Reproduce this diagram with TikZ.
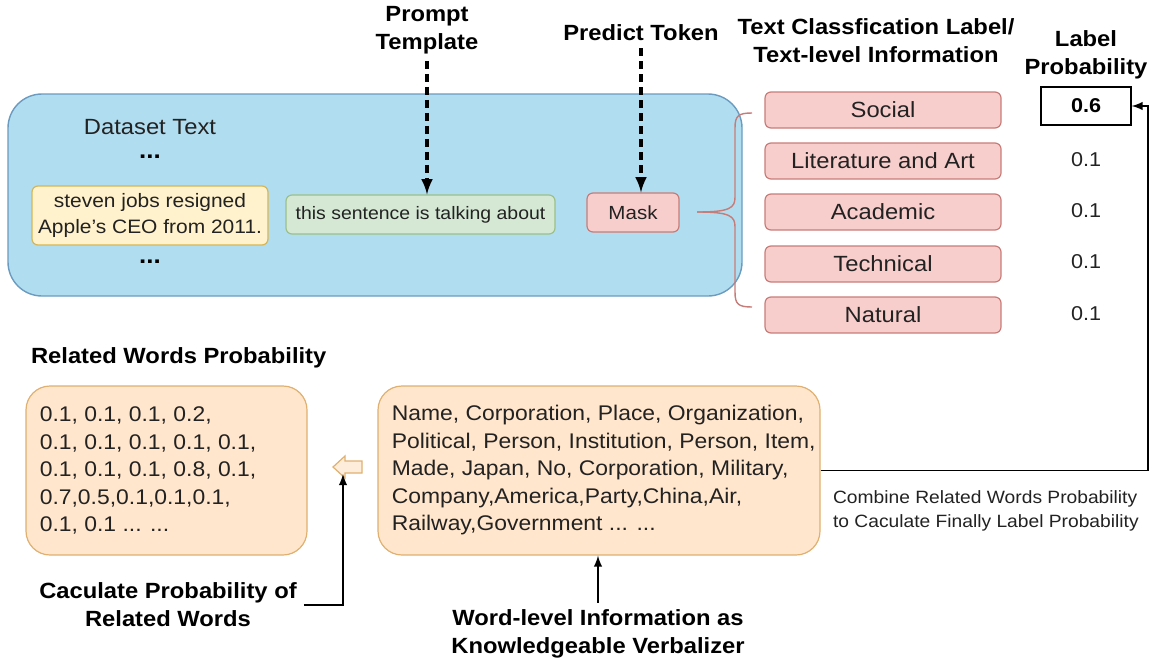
\documentclass[tikz,border=0pt]{standalone}
\usepackage{fontspec}
\setmainfont{Liberation Sans}[FakeStretch=1.08]
\usetikzlibrary{positioning}
\usetikzlibrary{arrows}
\usetikzlibrary{calc}

\definecolor{blueFill}{HTML}{B1DDF0}
\definecolor{blueLine}{HTML}{6B9BBF}
\definecolor{yellowFill}{HTML}{FFF2CC}
\definecolor{yellowLine}{HTML}{D6B656}
\definecolor{greenFill}{HTML}{D5E8D4}
\definecolor{greenLine}{HTML}{9CC08A}
\definecolor{redFill}{HTML}{F8CECC}
\definecolor{redLine}{HTML}{C77C78}
\definecolor{orangeFill}{HTML}{FFE6CC}
\definecolor{orangeLine}{HTML}{E0B070}
\definecolor{txt}{HTML}{222222}

\tikzset{
    smallbox/.style={draw, rounded corners=3pt, line width=0.6pt, text=txt,
        font=\fontsize{9}{12}\selectfont, align=center, inner sep=1pt},
    labelbox/.style={draw=redLine, fill=redFill, rounded corners=3pt, line width=0.6pt,
        minimum width=118pt, minimum height=18pt, text=txt, font=\fontsize{11}{13}\selectfont},
    prob/.style={text=txt, font=\fontsize{10}{12}\selectfont},
    head/.style={font=\bfseries\fontsize{11}{14}\selectfont, align=center},
    wordbox/.style={draw=orangeLine, fill=orangeFill, rounded corners=12pt, line width=0.6pt,
        minimum height=84.5pt},
    wordtext/.style={align=left, inner sep=0pt, text=txt, font=\fontsize{10.6}{13.75}\selectfont},
    dasharrow/.style={-latex, line width=1.6pt, dash pattern=on 4pt off 2.5pt},
    solidarrow/.style={-latex, line width=0.9pt}
}

\begin{document}
\begin{tikzpicture}[x=0.5pt, y=-0.5pt]
    \useasboundingbox (0,0) rectangle (1155,669);

    % Dataset text
    \node[draw=blueLine, fill=blueFill, rounded corners=17pt, line width=0.7pt,
        minimum width=367pt, minimum height=101pt] (dataset) at (375,195) {};
    \node[text=txt, font=\fontsize{11}{13}\selectfont] (dstitle) at (150,127) {Dataset Text};
    \node[font=\bfseries\large] (dots1) at (150,157) {...};
    \node[font=\bfseries\large] (dots2) at (150,262) {...};
    \node[smallbox, draw=yellowLine, fill=yellowFill, minimum width=118pt, minimum height=29.5pt,
        font=\fontsize{9.7}{13}\selectfont] (sent) at (150,215.5) {steven jobs resigned\\Apple's CEO from 2011.};
    \node[smallbox, draw=greenLine, fill=greenFill, minimum width=134.5pt, minimum height=19.5pt]
        (prompt) at (420.5,214.5) {this sentence is talking about};
    \node[smallbox, draw=redLine, fill=redFill, minimum width=46pt, minimum height=19.5pt,
        font=\fontsize{9.5}{12}\selectfont] (mask) at (633,212.5) {Mask};

    % Headers
    \node[head] (prompthead) at (427,30) {Prompt\\Template};
    \node[head] (predhead) at (641,33) {Predict Token};
    \node[head] (labelhead) at (876,41) {Text Classfication Label/\\Text-level Information};
    \node[head] (probhead) at (1086,55) {Label\\Probability};

    % Label boxes
    \node[labelbox] (social) at (883,110) {Social};
    \node[labelbox] (lit)    at (883,161) {Literature and Art};
    \node[labelbox] (acad)   at (883,212) {Academic};
    \node[labelbox] (tech)   at (883,264) {Technical};
    \node[labelbox] (nat)    at (883,315) {Natural};

    % Label probabilities
    \node[draw, line width=0.6pt, minimum width=45pt, minimum height=19pt,
        font=\bfseries\fontsize{10}{12}\selectfont] (p1) at (1086,106) {0.6};
    \node[prob] (p2) at (1086,160) {0.1};
    \node[prob] (p3) at (1086,211) {0.1};
    \node[prob] (p4) at (1086,262) {0.1};
    \node[prob] (p5) at (1086,314) {0.1};

    % Brace
    \coordinate (btop) at (752,113);
    \coordinate (bbot) at (752,307);
    \coordinate (btip) at (697,212);
    \draw[redLine, line width=0.7pt] (btop) .. controls (738,113) and (735,116) .. (735,128)
        -- (735,197) .. controls (735,208) and (730,212) .. (btip);
    \draw[redLine, line width=0.7pt] (bbot) .. controls (738,307) and (735,304) .. (735,292)
        -- (735,227) .. controls (735,216) and (730,212) .. (btip);

    % Dashed arrows
    \draw[dasharrow] (prompthead.south) -- (prompthead.south |- prompt.north);
    \draw[dasharrow] (predhead.south) -- (predhead.south |- mask.north);

    % Word boxes
    \node[head, anchor=west] (relhead) at (24,358) {Related Words Probability};
    \node[wordbox, minimum width=140.5pt] (relprob) at (166.5,470.5) {};
    \node[wordtext, anchor=west] (reltext) at ([xshift=7pt]relprob.west)
        {0.1, 0.1, 0.1, 0.2,\\0.1, 0.1, 0.1, 0.1, 0.1,\\0.1, 0.1, 0.1, 0.8, 0.1,\\0.7,0.5,0.1,0.1,0.1,\\0.1, 0.1 ... ...};
    \node[wordbox, minimum width=221pt] (verb) at (599,470.5) {};
    \node[wordtext, anchor=west] (verbtext) at ([xshift=7pt]verb.west)
        {Name, Corporation, Place, Organization,\\Political, Person, Institution, Person, Item,\\Made, Japan, No, Corporation, Military,\\Company,America,Party,China,Air,\\Railway,Government ... ...};

    % Hollow arrow
    \draw[orangeLine, fill=orangeFill!70!white, line width=0.6pt]
        (333,467) -- (345,456) -- (345,461) -- (362,461) -- (362,473) -- (345,473) -- (345,478) -- cycle;

    % Bottom labels
    \node[head] (calc) at (168,605) {Caculate Probability of\\Related Words};
    \node[head] (verbhead) at (598,634) {Word-level Information as\\Knowledgeable Verbalizer};
    \coordinate (calcturn) at (343,605);
    \draw[solidarrow] (calc.east) -- (calcturn) -- (343,474);
    \draw[solidarrow] (verbhead.north) -- (verbhead.north |- verb.south);

    % Combine line
    \coordinate (turn) at (1148,106);
    \draw[solidarrow] (verb.east) -| (turn) -- (p1.east);
    \node[anchor=north west, align=left, text=txt, font=\fontsize{8.9}{12}\selectfont] (combine)
        at (826,484) {Combine Related Words Probability\\to Caculate Finally Label Probability};
\end{tikzpicture}
\end{document}
